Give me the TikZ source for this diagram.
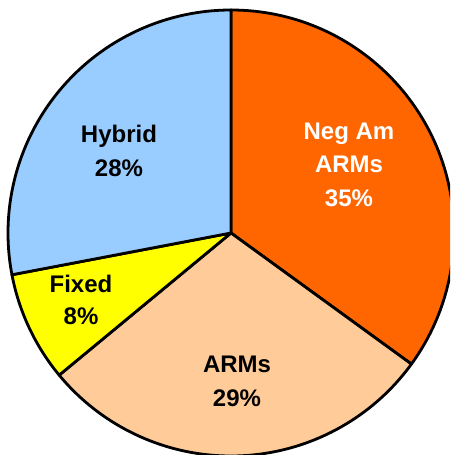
\documentclass[tikz,border=0pt]{standalone}
\usepackage{fontspec}
\setmainfont{Liberation Sans}
\definecolor{negam}{HTML}{FF6600}
\definecolor{arms}{HTML}{FFCC99}
\definecolor{fixedc}{HTML}{FFFF00}
\definecolor{hybrid}{HTML}{99CCFF}
\begin{document}
\begin{tikzpicture}[x=1pt,y=1pt,
  slice/.style={draw=black,line width=2.8pt,line join=round},
  lbl/.style={font=\fontsize{24}{28}\selectfont\bfseries,anchor=base,inner sep=0pt}]
\useasboundingbox (0,0) rectangle (450,455);
\clip (0,0) rectangle (450,455);
\coordinate (c) at (231,222);
\def\R{223}
\filldraw[slice,fill=negam] (c) -- ++(90:\R) arc[start angle=90,end angle=-36,radius=\R] -- cycle;
\filldraw[slice,fill=arms] (c) -- ++(-36:\R) arc[start angle=-36,end angle=-140.4,radius=\R] -- cycle;
\filldraw[slice,fill=fixedc] (c) -- ++(-140.4:\R) arc[start angle=-140.4,end angle=-169.2,radius=\R] -- cycle;
\filldraw[slice,fill=hybrid] (c) -- ++(-169.2:\R) arc[start angle=-169.2,end angle=-270,radius=\R] -- cycle;
\node[lbl,text=white] (neg1) at (349,315) {Neg Am};
\node[lbl,text=white] (neg2) at (349,282) {ARMs};
\node[lbl,text=white] (neg3) at (349,248) {35\%};
\node[lbl] (hyb1) at (119,312) {Hybrid};
\node[lbl] (hyb2) at (119,278) {28\%};
\node[lbl] (fix1) at (81,162) {Fixed};
\node[lbl] (fix2) at (81,130) {8\%};
\node[lbl] (arm1) at (237,82) {ARMs};
\node[lbl] (arm2) at (237,48) {29\%};
\end{tikzpicture}
\end{document}
